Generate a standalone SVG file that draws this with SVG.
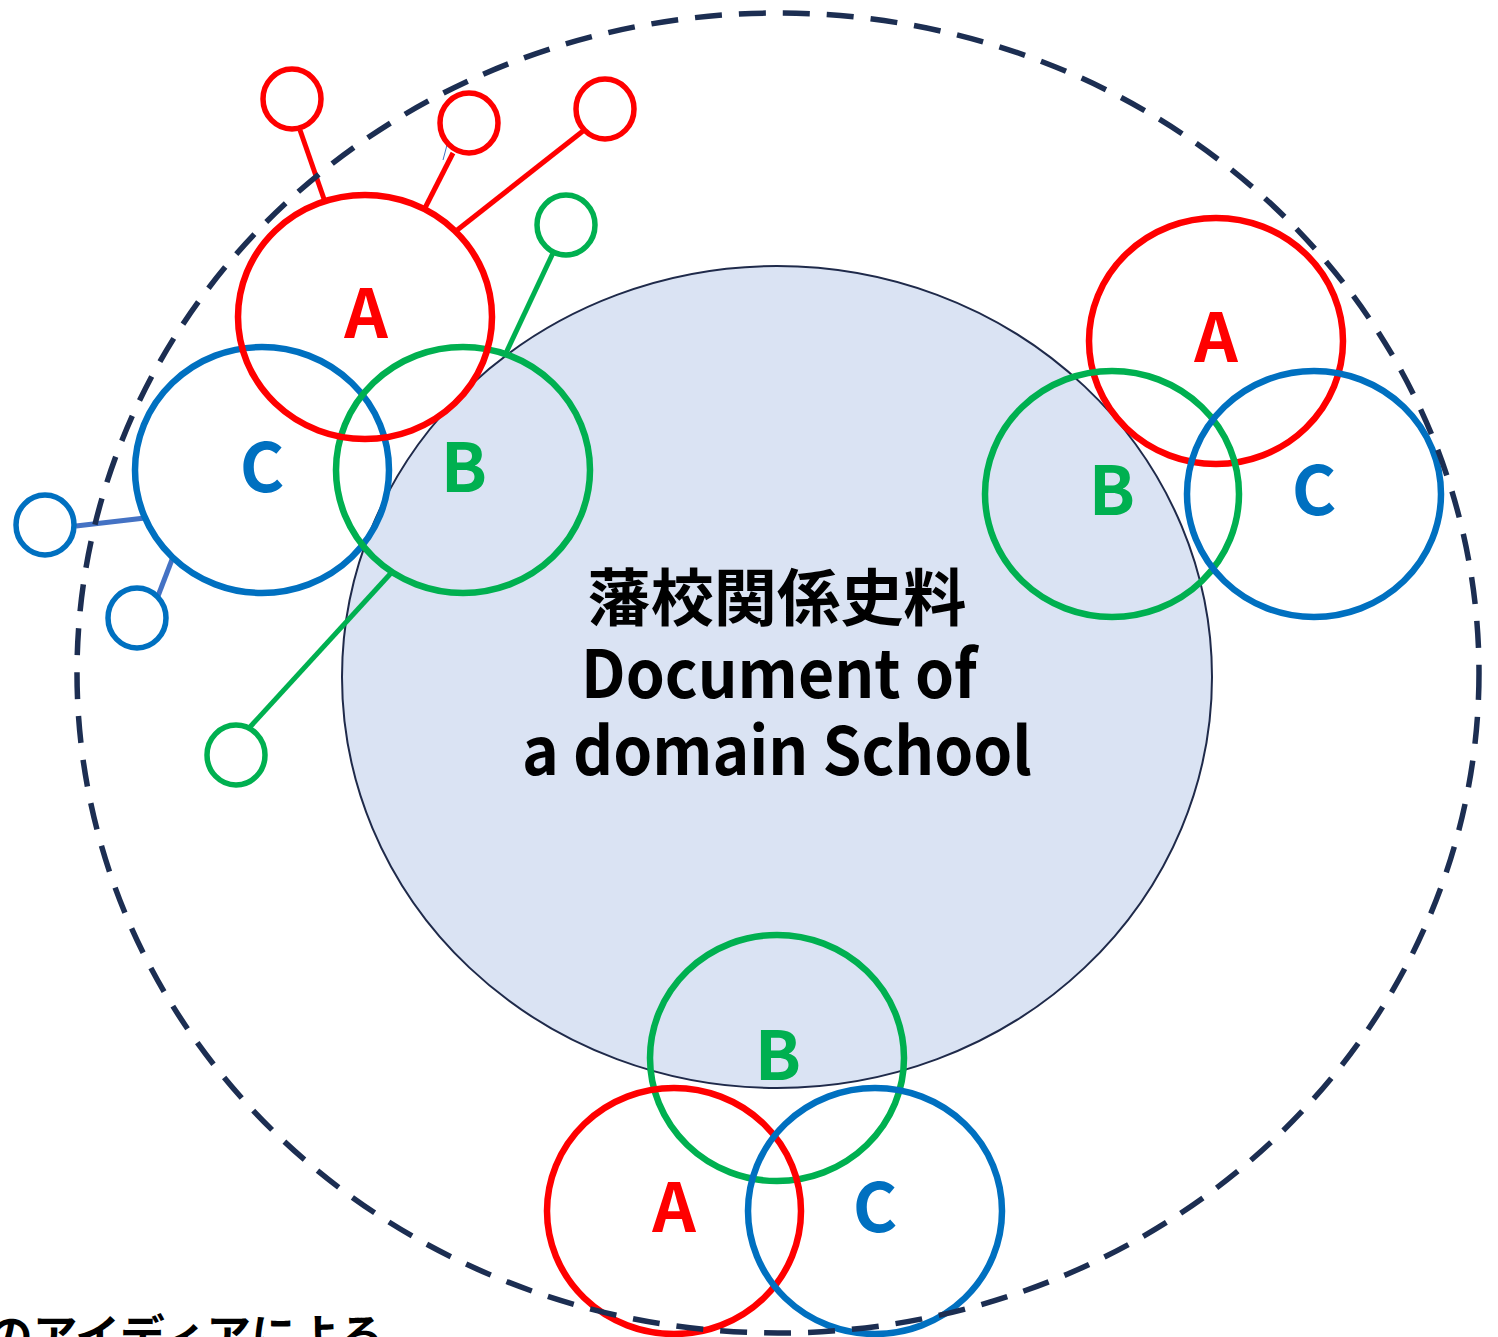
<svg xmlns="http://www.w3.org/2000/svg" width="1498" height="1337" viewBox="0 0 1498 1337">
<style>
.ring{fill:none;stroke-width:6.5}
.small{fill:none;stroke-width:5.5}
.red{stroke:#ff0000}
.green{stroke:#00b050}
.blue{stroke:#0070c0}
.lnk{stroke-width:5;fill:none}
.lnkblue{stroke:#4472c4}
.lbl{font-family:"Noto Sans CJK JP","Noto Sans",sans-serif;font-weight:bold;font-size:68px;text-anchor:middle}
.tr{fill:#ff0000}.tg{fill:#00b050}.tb{fill:#0070c0}
.core{fill:#dae3f3;stroke:#1f2a4a;stroke-width:2}
.ctext{font-family:"Noto Sans CJK JP","Noto Sans",sans-serif;font-weight:bold;fill:#000;text-anchor:middle}
.boundary{fill:none;stroke:#1c2e52;stroke-width:5.5;stroke-dasharray:27 17}
</style>
<rect width="1498" height="1337" fill="#ffffff"/>
<g id="core-document">
<ellipse class="core" cx="777" cy="677" rx="435" ry="411"/>
<text class="ctext" x="777" y="621" font-size="62" textLength="379" lengthAdjust="spacingAndGlyphs">藩校関係史料</text>
<text class="ctext" x="779" y="698" font-size="66" textLength="396" lengthAdjust="spacingAndGlyphs">Document of</text>
<text class="ctext" x="777" y="775" font-size="66" textLength="510" lengthAdjust="spacingAndGlyphs">a domain School</text>
</g>
<g id="connectors">
<line class="lnk red" x1="300" y1="130" x2="324" y2="199"/>
<line class="lnk red" x1="453" y1="153" x2="425" y2="208"/>
<line class="lnk red" x1="583" y1="131" x2="456" y2="231"/>
<line x1="447" y1="145" x2="443" y2="160" stroke="#4472c4" stroke-width="1"/>
<line class="lnk green" x1="553" y1="253" x2="506" y2="353"/>
<line class="lnk green" x1="392" y1="572" x2="250" y2="727"/>
<line class="lnk lnkblue" x1="76" y1="526" x2="145" y2="518"/>
<line class="lnk lnkblue" x1="158" y1="596" x2="173" y2="557"/>
</g>
<g id="cluster-topleft">
<g id="tl-C"><ellipse class="ring blue" cx="262" cy="470" rx="127" ry="123"/><text class="lbl tb" x="262" y="492">C</text></g>
<g id="tl-B"><ellipse class="ring green" cx="463" cy="470" rx="127" ry="123"/><text class="lbl tg" x="464" y="492">B</text></g>
<g id="tl-A"><ellipse class="ring red" cx="365" cy="317" rx="127" ry="122"/><text class="lbl tr" x="366" y="338">A</text></g>
<g id="tl-A-sub1"><ellipse class="small red" cx="292" cy="99" rx="29" ry="30"/></g>
<g id="tl-A-sub2"><ellipse class="small red" cx="469" cy="123" rx="29" ry="30"/></g>
<g id="tl-A-sub3"><ellipse class="small red" cx="605" cy="109" rx="29" ry="30"/></g>
<g id="tl-B-sub1"><ellipse class="small green" cx="566" cy="225" rx="29" ry="30"/></g>
<g id="tl-B-sub2"><ellipse class="small green" cx="236" cy="755" rx="29" ry="30"/></g>
<g id="tl-C-sub1"><ellipse class="small blue" cx="45" cy="525" rx="29" ry="30"/></g>
<g id="tl-C-sub2"><ellipse class="small blue" cx="137" cy="618" rx="29" ry="30"/></g>
</g>
<g id="cluster-right">
<g id="r-A"><ellipse class="ring red" cx="1216" cy="341" rx="127" ry="123"/><text class="lbl tr" x="1216" y="362">A</text></g>
<g id="r-B"><ellipse class="ring green" cx="1112" cy="494" rx="127" ry="123"/><text class="lbl tg" x="1112" y="515">B</text></g>
<g id="r-C"><ellipse class="ring blue" cx="1314" cy="494" rx="127" ry="123"/><text class="lbl tb" x="1314" y="515">C</text></g>
</g>
<g id="cluster-bottom">
<g id="b-B"><ellipse class="ring green" cx="777" cy="1058" rx="127" ry="123"/><text class="lbl tg" x="778" y="1080">B</text></g>
<g id="b-A"><ellipse class="ring red" cx="674" cy="1211" rx="127" ry="123"/><text class="lbl tr" x="674" y="1232">A</text></g>
<g id="b-C"><ellipse class="ring blue" cx="875" cy="1211" rx="127" ry="123"/><text class="lbl tb" x="875" y="1232">C</text></g>
</g>
<g id="boundary">
<ellipse class="boundary" cx="778" cy="673" rx="701" ry="660"/>
</g>
<g id="caption">
<text x="-12" y="1352" font-family="'Noto Sans CJK JP',sans-serif" font-weight="bold" font-size="44" fill="#000" textLength="396" lengthAdjust="spacingAndGlyphs">のアイディアによる</text>
</g>
</svg>
